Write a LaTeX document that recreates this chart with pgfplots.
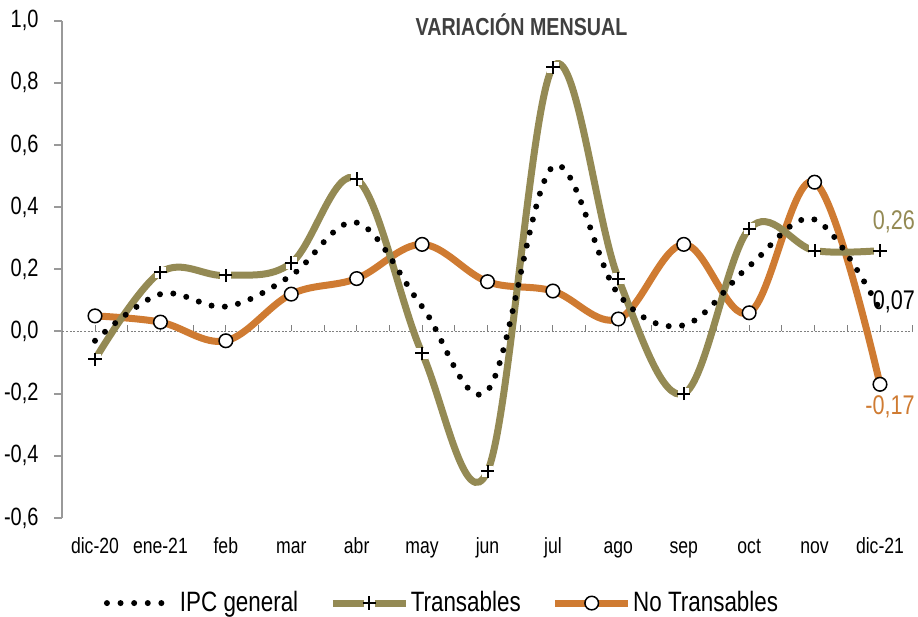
\documentclass[border=0pt]{standalone}
\usepackage{fontspec}
\setmainfont{Liberation Sans}[FakeStretch=0.8]
\usepackage{pgfplots}
\usepackage{pgfplotstable}
\pgfplotsset{compat=1.18}

\definecolor{cT}{HTML}{948A54}
\definecolor{cNT}{HTML}{CF7B32}
\definecolor{cAx}{HTML}{999999}
\definecolor{cZero}{HTML}{808080}
\definecolor{cTitle}{HTML}{404040}

% plus on a white square, like the spreadsheet marker
\pgfdeclareplotmark{wplus}{%
  \pgfpathrectangle{\pgfqpoint{-0.85\pgfplotmarksize}{-0.85\pgfplotmarksize}}{\pgfqpoint{1.7\pgfplotmarksize}{1.7\pgfplotmarksize}}%
  \pgfusepathqfill
  \pgfpathmoveto{\pgfqpoint{-\pgfplotmarksize}{0pt}}\pgfpathlineto{\pgfqpoint{\pgfplotmarksize}{0pt}}%
  \pgfpathmoveto{\pgfqpoint{0pt}{-\pgfplotmarksize}}\pgfpathlineto{\pgfqpoint{0pt}{\pgfplotmarksize}}%
  \pgfusepathqstroke}

\pgfplotstableread{
x  ipc    t      nt
0  -0.03  -0.09   0.05
1   0.12   0.19   0.03
2   0.08   0.18  -0.03
3   0.18   0.22   0.12
4   0.35   0.49   0.17
5   0.08  -0.07   0.28
6  -0.19  -0.45   0.16
7   0.53   0.85   0.13
8   0.12   0.17   0.04
9   0.02  -0.20   0.28
10  0.21   0.33   0.06
11  0.36   0.26   0.48
12  0.07   0.26  -0.17
}\datatable

\begin{document}
\begin{tikzpicture}
  \begin{axis}[
    at={(0,0)}, anchor=south west,
    scale only axis, width=425.2pt, height=248.75pt,
    xmin=-0.5, xmax=12.5, ymin=-0.6, ymax=1.0,
    axis lines*=left, x axis line style={draw=none},
    y axis line style={cAx, line width=1pt},
    xtick={0,...,12},
    xticklabels={dic-20,ene-21,feb,mar,abr,may,jun,jul,ago,sep,oct,nov,dic-21},
    xtick style={draw=none},
    xticklabel style={anchor=base, inner sep=0pt, yshift=-13.5pt, font=\fontsize{11}{13}\selectfont},
    ytick={-0.6,-0.4,-0.2,0,0.2,0.4,0.6,0.8,1.0},
    ytick style={cAx, line width=1pt}, tick align=outside, major tick length=4pt,
    /pgf/number format/assume math mode=true,
    yticklabel style={/pgf/number format/.cd, fixed, fixed zerofill, precision=1, use comma, /tikz/.cd,
                      anchor=east, inner sep=0pt, xshift=-7.7pt, font=\fontsize{12.5}{14}\selectfont},
    clip=false,
    legend columns=-1,
    legend style={at={(0.049,-0.171)}, anchor=west, draw=none, fill=none, inner sep=0pt, outer sep=0pt,
                  font=\fontsize{14}{16}\selectfont, nodes={inner sep=0pt},
                  /tikz/every even column/.append style={column sep=15.5pt}},
  ]
    \addlegendimage{legend image code/.code={%
      \foreach \i in {0,1,2,3,4} {\fill[black, draw=none] (1.5pt+\i*6.8pt,0pt) circle (1.5pt);}
      \path[draw=none, fill=none] (0pt,0pt) -- (38pt,0pt);}}
    \addlegendentry{IPC general}
    \addlegendimage{legend image code/.code={%
      \draw[cT, line width=3.5pt] (0pt,0pt) -- (36.5pt,0pt);
      \path[mark options={draw=black, fill=white, line width=1pt}] plot[mark=wplus, mark size=3.3pt] coordinates {(18.25pt,0pt)};
      \path[draw=none, fill=none] (0pt,0pt) -- (39pt,0pt);}}
    \addlegendentry{Transables}
    \addlegendimage{legend image code/.code={%
      \draw[cNT, line width=3.5pt] (0pt,0pt) -- (36.5pt,0pt);
      \draw[black, fill=white, line width=0.75pt] (18.25pt,0pt) circle (3.4pt);
      \path[draw=none, fill=none] (0pt,0pt) -- (39pt,0pt);}}
    \addlegendentry{No Transables}

    % zero line with small upward ticks
    \draw[cZero, line width=0.45pt, dash pattern=on 1pt off 0.8pt] (axis cs:-0.5,0) -- (axis cs:12.5,0);
    \pgfplotsinvokeforeach{0,0.5,...,12.5}{\draw[cZero, line width=0.45pt] (axis cs:#1,0) -- ++(0pt,3pt);}

    \addplot[cNT, line width=3.5pt, smooth, tension=0.6, forget plot] table[x=x, y=nt] {\datatable};
    \addplot[cT, line width=3.5pt, smooth, tension=0.6, forget plot] table[x=x, y=t] {\datatable};
    \addplot[black, line width=3pt, line cap=round, dash pattern=on 0pt off 6.7pt, smooth, tension=0.6, forget plot]
      table[x=x, y=ipc] {\datatable};
    \addplot[only marks, mark=wplus, mark size=3.3pt, mark options={draw=black, fill=white, line width=1pt}, forget plot]
      table[x=x, y=t] {\datatable};
    \addplot[only marks, mark=*, mark size=3.4pt, mark options={draw=black, fill=white, line width=0.75pt}, forget plot]
      table[x=x, y=nt] {\datatable};

    \node[text=cT, font=\fontsize{13.5}{15}\selectfont, xshift=7pt, yshift=14.3pt] at (axis cs:12,0.26) {0,26};
    \node[text=black, font=\fontsize{13.5}{15}\selectfont, xshift=7pt, yshift=3.9pt] at (axis cs:12,0.07) {0,07};
    \node[text=cNT, font=\fontsize{13.5}{15}\selectfont, xshift=5pt, yshift=-11.3pt] at (axis cs:12,-0.17) {-0,17};
    \node[text=cTitle, font=\bfseries\fontsize{12.3}{14}\selectfont] at (axis cs:6.52,0.985) {VARIACIÓN MENSUAL};
  \end{axis}
  \pgfresetboundingbox
  \path[use as bounding box] (-31.15pt,-49.5pt) rectangle (427.85pt,259pt);
\end{tikzpicture}
\end{document}
